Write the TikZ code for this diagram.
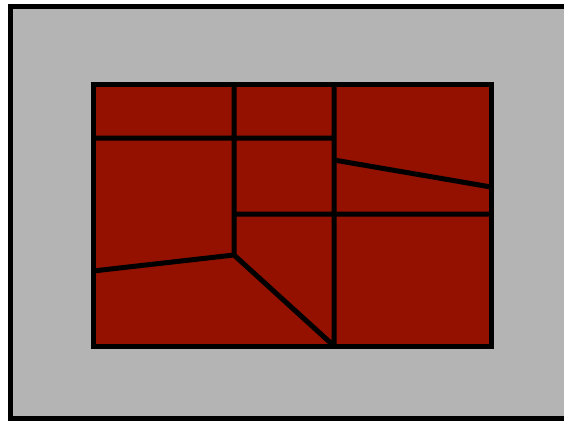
\documentclass[tikz,border=0pt]{standalone}
\usepackage{xcolor}
\usetikzlibrary{calc}

\definecolor{wallgray}{RGB}{180,180,180}
\definecolor{plotred}{RGB}{148,17,0}

\begin{document}
\begin{tikzpicture}[x=1pt, y=-1pt, line join=miter,
      border/.style={draw=black, line width=5pt},
      seam/.style={draw=black, line width=5pt}]
      \useasboundingbox (0,0) rectangle (564,421);
      \clip (0,0) rectangle (564,421);
      % outer frame
      \draw[border, fill=wallgray] (10.5,6.5) rectangle (580,418);
      % inner field
      \coordinate (tl) at (93,84);
      \coordinate (br) at (491,346);
      \draw[border, fill=plotred] (tl) rectangle (br);
      % partition points
      \coordinate (c1) at (234,84);
      \coordinate (c2) at (334,84);
      \coordinate (m1) at (93,138);
      \coordinate (m2) at (234,138);
      \coordinate (m3) at (334,138);
      \coordinate (k)  at (234,255);
      \coordinate (l1) at (93,271);
      \coordinate (b2) at (334,346);
      \coordinate (r1) at (334,160);
      \coordinate (r2) at (491,187);
      \coordinate (h1) at (234,214);
      \coordinate (h2) at (491,214);
      \path[seam]
        (c1) -- (k)
        (c2) -- (b2)
        (m1) -- (m3)
        (l1) -- (k) -- (b2)
        (r1) -- (r2)
        (h1) -- (h2);
    \end{tikzpicture}
\end{document}
